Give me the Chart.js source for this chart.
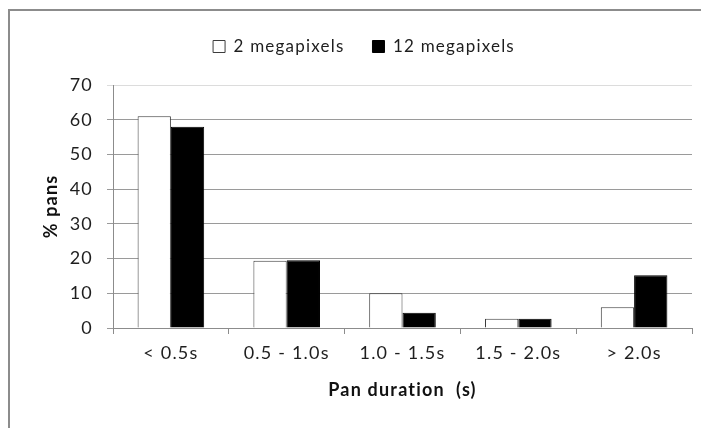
<!DOCTYPE html>
<html>
<head>
<meta charset="utf-8">
<script src="https://cdn.jsdelivr.net/npm/chart.js@4"></script>
<style>
  body { margin: 0; background: #fff; }
  #wrap { position: relative; width: 701px; height: 428px; }
  #frame {
    position: absolute; left: 8px; top: 9px; right: 0; bottom: 0;
    border-left: 2px solid #8c8c8c; border-top: 2px solid #8c8c8c;
    pointer-events: none;
  }
</style>
</head>
<body>
<div id="wrap">
  <canvas id="panChart" width="701" height="428"></canvas>
  <div id="frame"></div>
</div>
<script>
const categories = ["< 0.5s", "0.5 - 1.0s", "1.0 - 1.5s", "1.5 - 2.0s", "> 2.0s"];
const twoMegapixels = [61, 19.4, 10, 2.7, 6];
const twelveMegapixels = [58, 19.5, 4.4, 2.7, 15.2];
const yTicks = [0, 10, 20, 30, 40, 50, 60, 70];

document.addEventListener("DOMContentLoaded", function () {
    const ctx = document.getElementById("panChart").getContext("2d");
    const font = "Lato";

    // legend takes fixed space so the plot starts at the same height as the original
    const legendHeight = {
        id: "legendHeight",
        beforeInit(chart) {
            const fit = chart.legend.fit;
            chart.legend.fit = function () {
                fit.call(chart.legend);
                this.height = 75;
            };
        }
    };

    // the original text is a bit wider than Lato, so space the letters out
    const spacing = {
        id: "spacing",
        beforeUpdate(chart) { chart.ctx.letterSpacing = "1.2px"; },
        beforeDraw(chart) { chart.ctx.letterSpacing = "1.2px"; }
    };

    new Chart(ctx, {
        type: "bar",
        data: {
            labels: categories,
            datasets: [{
                label: "2 megapixels",
                data: twoMegapixels,
                backgroundColor: "#ffffff",
                borderColor: "#3c3c3c",
                borderWidth: 1
            }, {
                label: "12 megapixels",
                data: twelveMegapixels,
                backgroundColor: "#000000",
                borderColor: "#000000",
                borderWidth: 1
            }]
        },
        options: {
            responsive: false,
            animation: false,
            categoryPercentage: 0.575,
            barPercentage: 1,
            layout: { padding: { left: 36, right: 9, top: 10, bottom: 23 } },
            plugins: {
                tooltip: { enabled: false },
                legend: {
                    position: "top",
                    labels: {
                        boxWidth: 12,
                        boxHeight: 12,
                        padding: 28,
                        color: "#1e1e1e",
                        font: { family: font, size: 17 }
                    }
                }
            },
            scales: {
                x: {
                    grid: {
                        drawOnChartArea: false,
                        color: "#8c8c8c",
                        tickLength: 6
                    },
                    border: { color: "#8c8c8c" },
                    ticks: {
                        color: "#1e1e1e",
                        padding: 8,
                        font: { family: font, size: 18 }
                    },
                    title: {
                        display: true,
                        text: "Pan duration  (s)",
                        color: "#111",
                        font: { family: font, size: 18, weight: "bold" }
                    },
                    afterFit(scale) { scale.height = 77; }
                },
                y: {
                    min: 0,
                    max: 70,
                    afterBuildTicks(scale) {
                        scale.ticks = yTicks.map(v => ({ value: v }));
                    },
                    grid: {
                        color: (c) => c.tick && c.tick.value === 70 ? "#dcdcdc" : "#9a9a9a",
                        tickLength: 6
                    },
                    border: { color: "#8c8c8c" },
                    ticks: {
                        color: "#1e1e1e",
                        padding: 14,
                        font: { family: font, size: 18 }
                    },
                    title: {
                        display: true,
                        text: "% pans",
                        color: "#111",
                        font: { family: font, size: 18, weight: "bold" }
                    },
                    afterFit(scale) { scale.width = 77; }
                }
            }
        },
        plugins: [legendHeight, spacing]
    });
});
</script>
</body>
</html>
